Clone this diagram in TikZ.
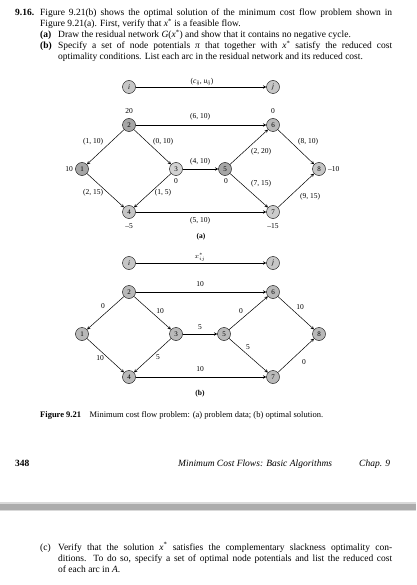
\documentclass[tikz,border=0pt]{standalone}
\usepackage{amsmath, amssymb}
\usepackage{xcolor}
\usepackage{fontspec}
\setmainfont{Liberation Serif}
\usepackage{tikz}
\usetikzlibrary{arrows,positioning,calc}

\newcommand{\bodyfont}{\fontsize{9.5}{11}\selectfont}
\newcommand{\labfont}{\fontsize{7.5}{9}\selectfont}
\newcommand{\xstar}{\textit{x}\textsuperscript{*}}

\begin{document}
\begin{tikzpicture}[
    x=1pt, y=-1pt,
    vertex/.style={circle, draw, fill=gray!45, minimum size=13pt, inner sep=0pt, font=\fontsize{7}{8}\selectfont},
    darkv/.style={vertex, fill=gray!70},
    midv/.style={vertex, fill=gray!55},
    lab/.style={font=\labfont, inner sep=1pt},
    para/.style={anchor=base west, inner sep=0pt, align=justify, font=\bodyfont},
    arrow/.style={->, >=stealth, line width=0.5pt}
]
\useasboundingbox (0,0) rectangle (416,585);

% Exercise text
\node[para] (num) at (15,16) {\textbf{9.16.}};
\node[para, text width=352pt] (intro) at (40,16) {Figure 9.21(b) shows the optimal solution of the minimum cost flow problem shown in\linebreak Figure 9.21(a). First, verify that \xstar{} is a feasible flow.};
\node[para] (qa) at (40,38) {\textbf{(a)}};
\node[para, text width=334pt] (qatext) at (58,38) {Draw the residual network \textit{G}(\xstar) and show that it contains no negative cycle.};
\node[para] (qb) at (40,49) {\textbf{(b)}};
\node[para, text width=334pt] (qbtext) at (58,49) {Specify a set of node potentials \textit{π} that together with \xstar{} satisfy the reduced cost\linebreak optimality conditions. List each arc in the residual network and its reduced cost.};

% Legend (a)
\node[vertex] (ia) at (129,87) {\textit{i}};
\node[vertex] (ja) at (273,87) {\textit{j}};
\draw[arrow] (ia) -- (ja);
\node[lab] (lega) at (202,82) {(\textit{c}\textsubscript{\textit{ij}}, \textit{u}\textsubscript{\textit{ij}})};

% Network (a)
\node[darkv] (n2a) at (129,125) {2};
\node[darkv] (n1a) at (82,169) {1};
\node[vertex, fill=gray!35] (n3a) at (176,169) {3};
\node[vertex] (n4a) at (129,212) {4};
\node[darkv] (n5a) at (225,169) {5};
\node[midv] (n6a) at (273,125) {6};
\node[vertex, fill=gray!40] (n7a) at (273,212) {7};
\node[vertex] (n8a) at (319,169) {8};

\draw[arrow] (n2a) -- (n1a);
\draw[arrow] (n2a) -- (n3a);
\draw[arrow] (n2a) -- (n6a);
\draw[arrow] (n1a) -- (n4a);
\draw[arrow] (n3a) -- (n4a);
\draw[arrow] (n3a) -- (n5a);
\draw[arrow] (n4a) -- (n7a);
\draw[arrow] (n5a) -- (n6a);
\draw[arrow] (n5a) -- (n7a);
\draw[arrow] (n6a) -- (n8a);
\draw[arrow] (n7a) -- (n8a);

% Arc data (a)
\node[lab] (c26) at (200,117) {(6, 10)};
\node[lab] (c21) at (93,142) {(1, 10)};
\node[lab] (c23) at (163,142) {(0, 10)};
\node[lab] (c14) at (93,193) {(2, 15)};
\node[lab] (c34) at (163,193) {(1, 5)};
\node[lab] (c35) at (200,162) {(4, 10)};
\node[lab] (c47) at (200,221) {(5, 10)};
\node[lab] (c56) at (261,152) {(2, 20)};
\node[lab] (c68) at (308,142) {(8, 10)};
\node[lab] (c57) at (261,184) {(7, 15)};
\node[lab] (c78) at (310,197) {(9, 15)};

% Supplies (a)
\node[lab] (b2) at (129,111) {20};
\node[lab, anchor=east] (b1) at (74,169) {10};
\node[lab] (b3) at (176,181) {0};
\node[lab] (b5) at (226,181) {0};
\node[lab] (b6) at (273,111) {0};
\node[lab, anchor=west] (b8) at (327,169) {\textendash10};
\node[lab] (b4) at (129,226) {\textendash5};
\node[lab] (b7) at (273,226) {\textendash15};
\node[lab] (capa) at (201,237) {\textbf{(a)}};

% Legend (b)
\node[vertex] (ib) at (129,263) {\textit{i}};
\node[vertex] (jb) at (273,263) {\textit{j}};
\draw[arrow] (ib) -- (jb);
\node[lab] (legb) at (200,257) {$x^*_{ij}$};

% Network (b)
\node[midv] (n2b) at (129,292) {2};
\node[midv] (n1b) at (82,334) {1};
\node[midv] (n3b) at (176,334) {3};
\node[midv] (n4b) at (129,377) {4};
\node[midv] (n5b) at (224,334) {5};
\node[midv] (n6b) at (273,292) {6};
\node[midv] (n7b) at (273,377) {7};
\node[midv] (n8b) at (319,334) {8};

\draw[arrow] (n2b) -- (n1b);
\draw[arrow] (n2b) -- (n3b);
\draw[arrow] (n2b) -- (n6b);
\draw[arrow] (n1b) -- (n4b);
\draw[arrow] (n3b) -- (n4b);
\draw[arrow] (n3b) -- (n5b);
\draw[arrow] (n4b) -- (n7b);
\draw[arrow] (n5b) -- (n6b);
\draw[arrow] (n5b) -- (n7b);
\draw[arrow] (n6b) -- (n8b);
\draw[arrow] (n7b) -- (n8b);

% Flows (b)
\node[lab] (x26) at (200,284) {10};
\node[lab] (x21) at (103,306) {0};
\node[lab] (x23) at (160,311) {10};
\node[lab] (x35) at (200,327) {5};
\node[lab] (x56) at (241,311) {0};
\node[lab] (x68) at (300,307) {10};
\node[lab] (x57) at (248,347) {5};
\node[lab] (x78) at (304,362) {0};
\node[lab] (x14) at (100,358) {10};
\node[lab] (x34) at (158,357) {5};
\node[lab] (x47) at (200,369) {10};
\node[lab] (capb) at (200,394) {\textbf{(b)}};

% Caption
\node[para, font=\fontsize{8.5}{10}\selectfont] (cap) at (40,417) {\textbf{Figure 9.21}\quad Minimum cost flow problem: (a) problem data; (b) optimal solution.};

% Page footer
\node[para] (page) at (15,466) {\textbf{348}};
\node[para] (run) at (178,466) {\textit{Minimum Cost Flows: Basic Algorithms}};
\node[para] (chap) at (359,466) {\textit{Chap. 9}};

% Page break band
\fill[gray!30] (0,502) rectangle (416,511);
\fill[gray!65] (0,503.5) rectangle (416,509.5);

% Part (c)
\node[para] (qc) at (40,550) {(c)};
\node[para, text width=334pt] (qctext) at (58,550) {Verify that the solution \xstar{} satisfies the complementary slackness optimality con-\linebreak ditions. To do so, specify a set of optimal node potentials and list the reduced cost\linebreak of each arc in \textit{A}.};

\end{tikzpicture}
\end{document}
